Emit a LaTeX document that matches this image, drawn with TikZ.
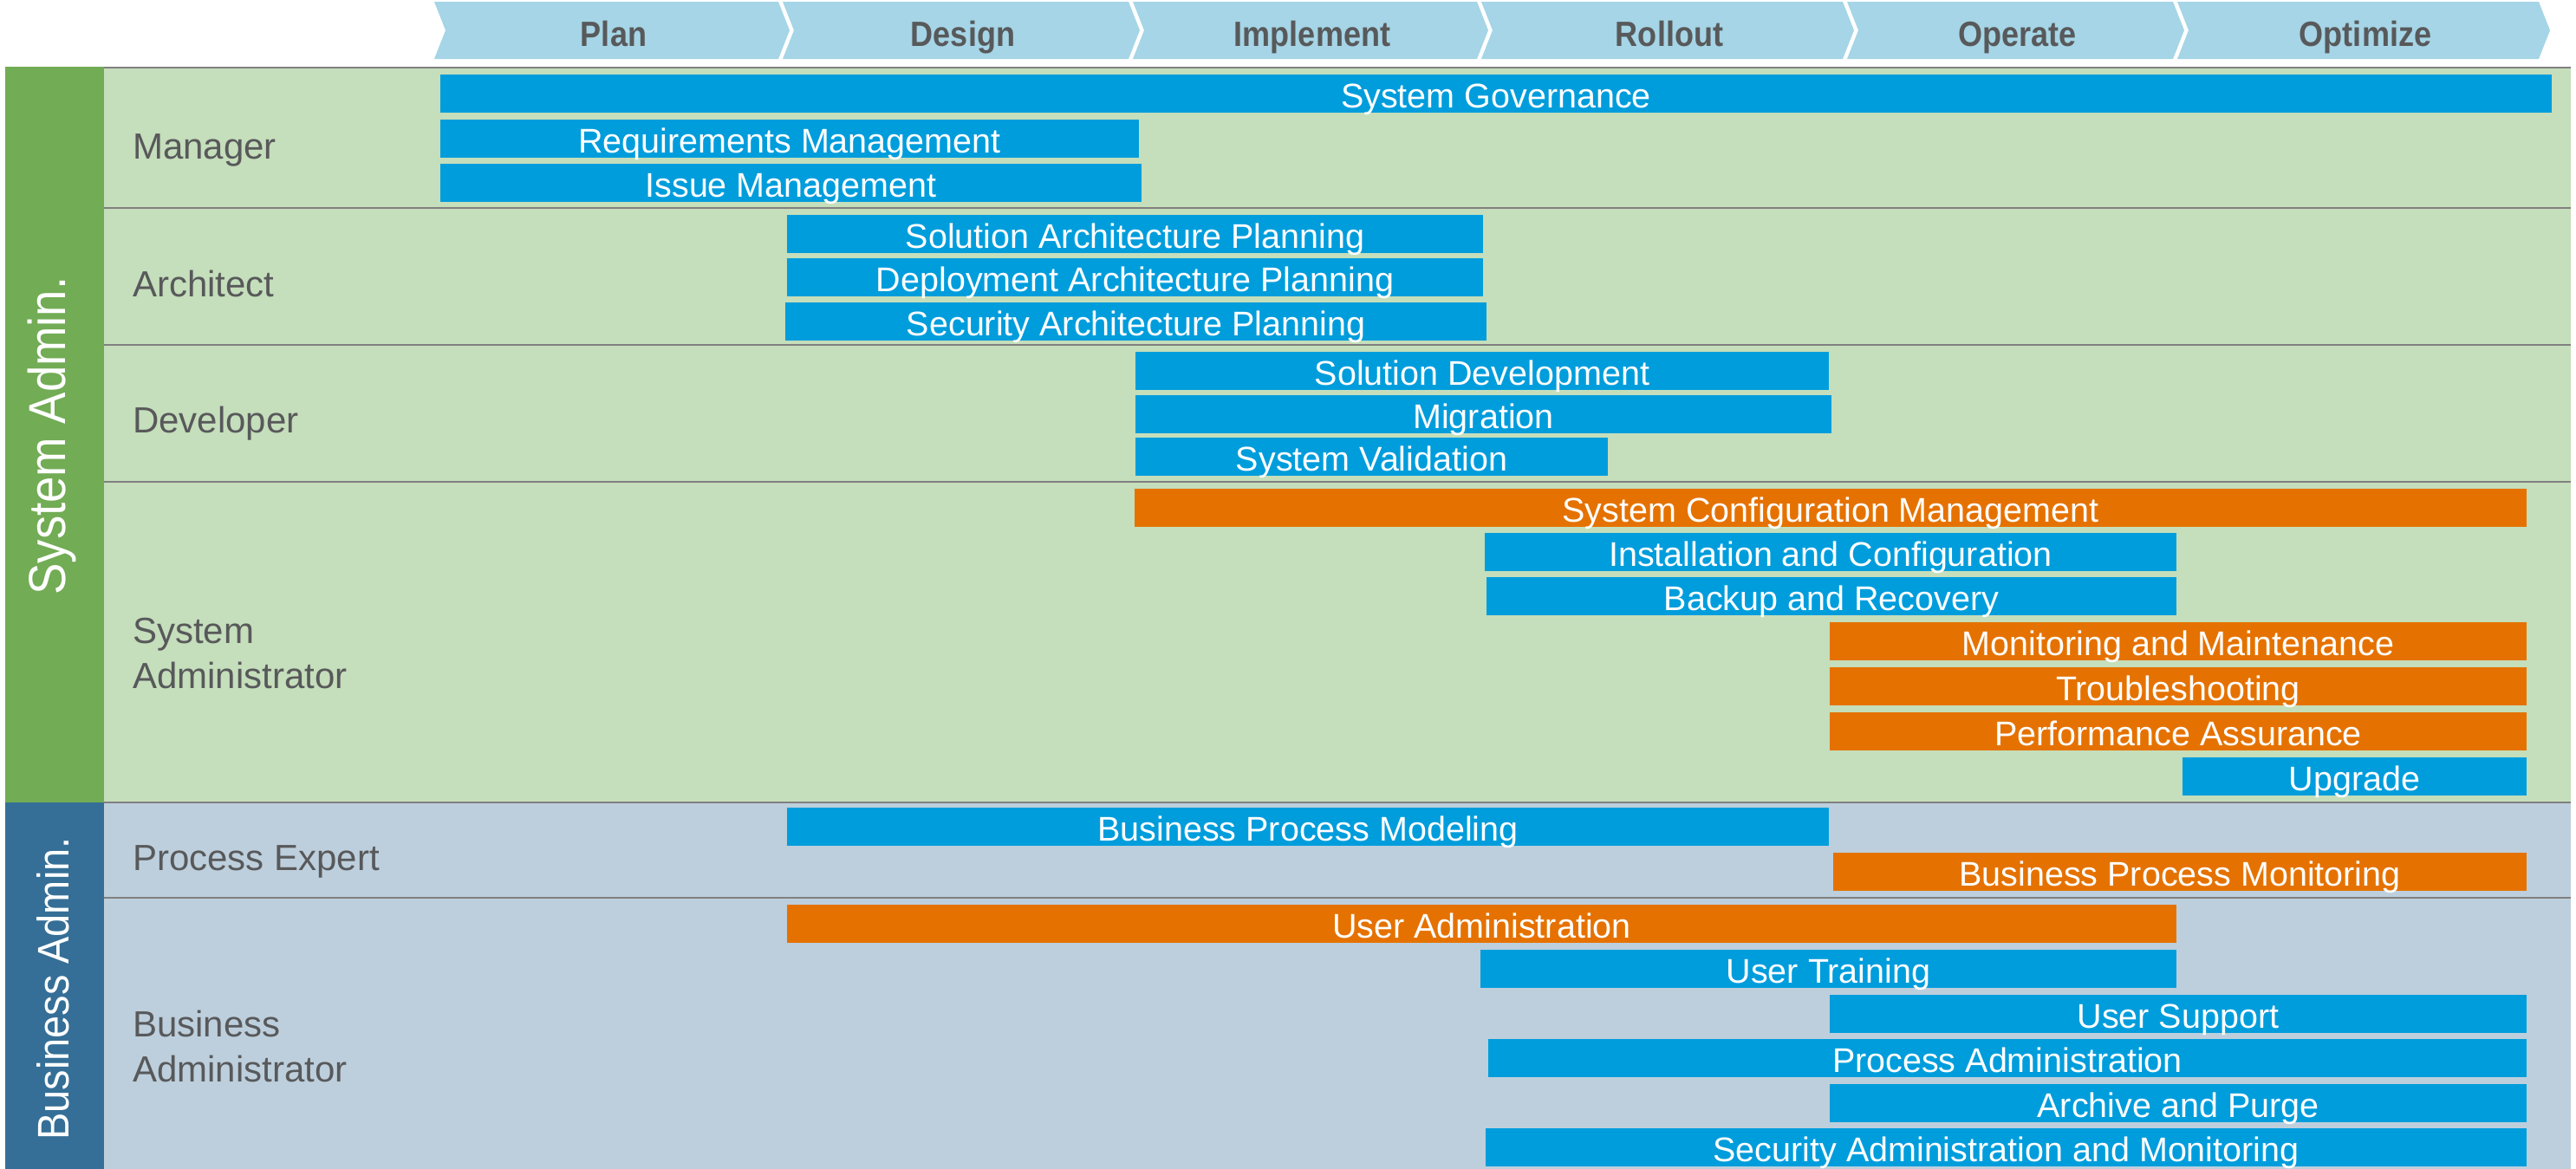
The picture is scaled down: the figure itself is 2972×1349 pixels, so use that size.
\documentclass[tikz,border=0pt]{standalone}
\usepackage{fontspec}
\setmainfont{Liberation Sans}
\usepackage{graphicx}
\definecolor{chev}{HTML}{A5D5E6}
\definecolor{hdrtext}{HTML}{58595B}
\definecolor{barblue}{HTML}{009DDC}
\definecolor{barorange}{HTML}{E57200}
\definecolor{stripgreen}{HTML}{72AC55}
\definecolor{bggreen}{HTML}{C5DEBB}
\definecolor{stripblue}{HTML}{356F97}
\definecolor{bgblue}{HTML}{BDCFDC}
\definecolor{sepgray}{HTML}{808080}
\tikzset{
  taskbox/.style={rectangle, inner sep=0pt, outer sep=0pt, minimum height=44pt,
    text=white, font=\fontsize{39.5}{44}\selectfont, text height=32pt, text depth=0pt},
  hdrlabel/.style={anchor=base, inner sep=0pt, text=hdrtext, font=\fontsize{40.5}{44}\selectfont\bfseries},
  rolelabel/.style={anchor=base west, inner sep=0pt, align=left, text=hdrtext, font=\fontsize{42}{52}\selectfont},
  seprule/.style={draw=sepgray, line width=2.5pt},
  grouplabel/.style={rotate=90, inner sep=0pt, text=white}
}
% #1 name, #2 x1, #3 x2, #4 ytop, #5 colour, #6 text
\newcommand\mktask[6]{\node[taskbox, fill=#5, minimum width={(#3-#2)*1pt}] (#1) at ({(#2+#3)/2},{#4+22}) {#6};}
% #1 name, #2 xL, #3 xR, #4 text
\newcommand\mkphase[4]{%
  \fill[chev] (#2,2) -- (#3,2) -- ({#3+13},35) -- (#3,68) -- (#2,68) -- ({#2+13},35) -- cycle;
  \node[hdrlabel] (#1) at ({(#2+#3+13)/2+2},53) {\scalebox{0.89}[1]{#4}};}
\begin{document}
\begin{tikzpicture}[x=1pt,y=-1pt]
\useasboundingbox (0,0) rectangle (2972,1349);
% backgrounds
\fill[bggreen] (120,77) rectangle (2966,926);
\fill[bgblue] (120,926) rectangle (2966,1349);
\fill[stripgreen] (6,77) rectangle (120,926);
\fill[stripblue] (6,926) rectangle (120,1349);
% separators
\foreach \yy in {78,240,398,556,926,1036} {\draw[seprule] (120,\yy) -- (2966,\yy);}
% phases
\mkphase{pplan}{501}{898}{Plan}
\mkphase{pdesign}{903}{1302}{Design}
\mkphase{pimpl}{1307}{1704}{Implement}
\mkphase{prollout}{1709}{2126}{Rollout}
\mkphase{poperate}{2131}{2507}{Operate}
\mkphase{poptimize}{2512}{2929}{Optimize}
% group labels
\node[grouplabel, font=\fontsize{60}{60}\selectfont] (gsys) at (60,503) {\scalebox{0.91}[1]{System Admin.}};
\node[grouplabel, font=\fontsize{51}{51}\selectfont] (gbus) at (61,1141) {\scalebox{0.92}[1]{Business Admin.}};
% role labels
\node[rolelabel] (rmanager) at (153,183) {Manager};
\node[rolelabel] (rarch) at (153,342) {Architect};
\node[rolelabel] (rdev) at (153,499) {Developer};
\node[rolelabel] (rsysadm) at (153,794) {System\\Administrator};
\node[rolelabel] (rproc) at (153,1004) {Process Expert};
\node[rolelabel] (rbusadm) at (153,1248) {Business\\Administrator};
% Manager
\mktask{tgov}{508}{2944}{86}{barblue}{System Governance}
\mktask{treq}{508}{1314}{138}{barblue}{Requirements Management}
\mktask{tissue}{508}{1317}{189}{barblue}{Issue Management}
% Architect
\mktask{tsap}{908}{1711}{248}{barblue}{Solution Architecture Planning}
\mktask{tdap}{908}{1711}{298}{barblue}{Deployment Architecture Planning}
\mktask{tsecap}{906}{1715}{349}{barblue}{Security Architecture Planning}
% Developer
\mktask{tsd}{1310}{2110}{406}{barblue}{Solution Development}
\mktask{tmig}{1310}{2113}{456}{barblue}{Migration}
\mktask{tsv}{1310}{1855}{505}{barblue}{System Validation}
% System Administrator
\mktask{tscm}{1309}{2915}{564}{barorange}{System Configuration Management}
\mktask{tinst}{1713}{2511}{615}{barblue}{Installation and Configuration}
\mktask{tbackup}{1715}{2511}{666}{barblue}{Backup and Recovery}
\mktask{tmon}{2111}{2915}{718}{barorange}{Monitoring and Maintenance}
\mktask{ttrouble}{2111}{2915}{770}{barorange}{Troubleshooting}
\mktask{tperf}{2111}{2915}{822}{barorange}{Performance Assurance}
\mktask{tupgrade}{2518}{2915}{874}{barblue}{Upgrade}
% Process Expert
\mktask{tbpmod}{908}{2110}{932}{barblue}{Business Process Modeling}
\mktask{tbpmon}{2115}{2915}{984}{barorange}{Business Process Monitoring}
% Business Administrator
\mktask{tuseradm}{908}{2511}{1044}{barorange}{User Administration}
\mktask{ttrain}{1708}{2511}{1096}{barblue}{User Training}
\mktask{tsupport}{2111}{2915}{1148}{barblue}{User Support}
\mktask{tprocadm}{1717}{2915}{1199}{barblue}{Process Administration}
\mktask{tarchive}{2111}{2915}{1251}{barblue}{Archive and Purge}
\mktask{tsecadm}{1714}{2915}{1302}{barblue}{Security Administration and Monitoring}
\end{tikzpicture}
\end{document}
